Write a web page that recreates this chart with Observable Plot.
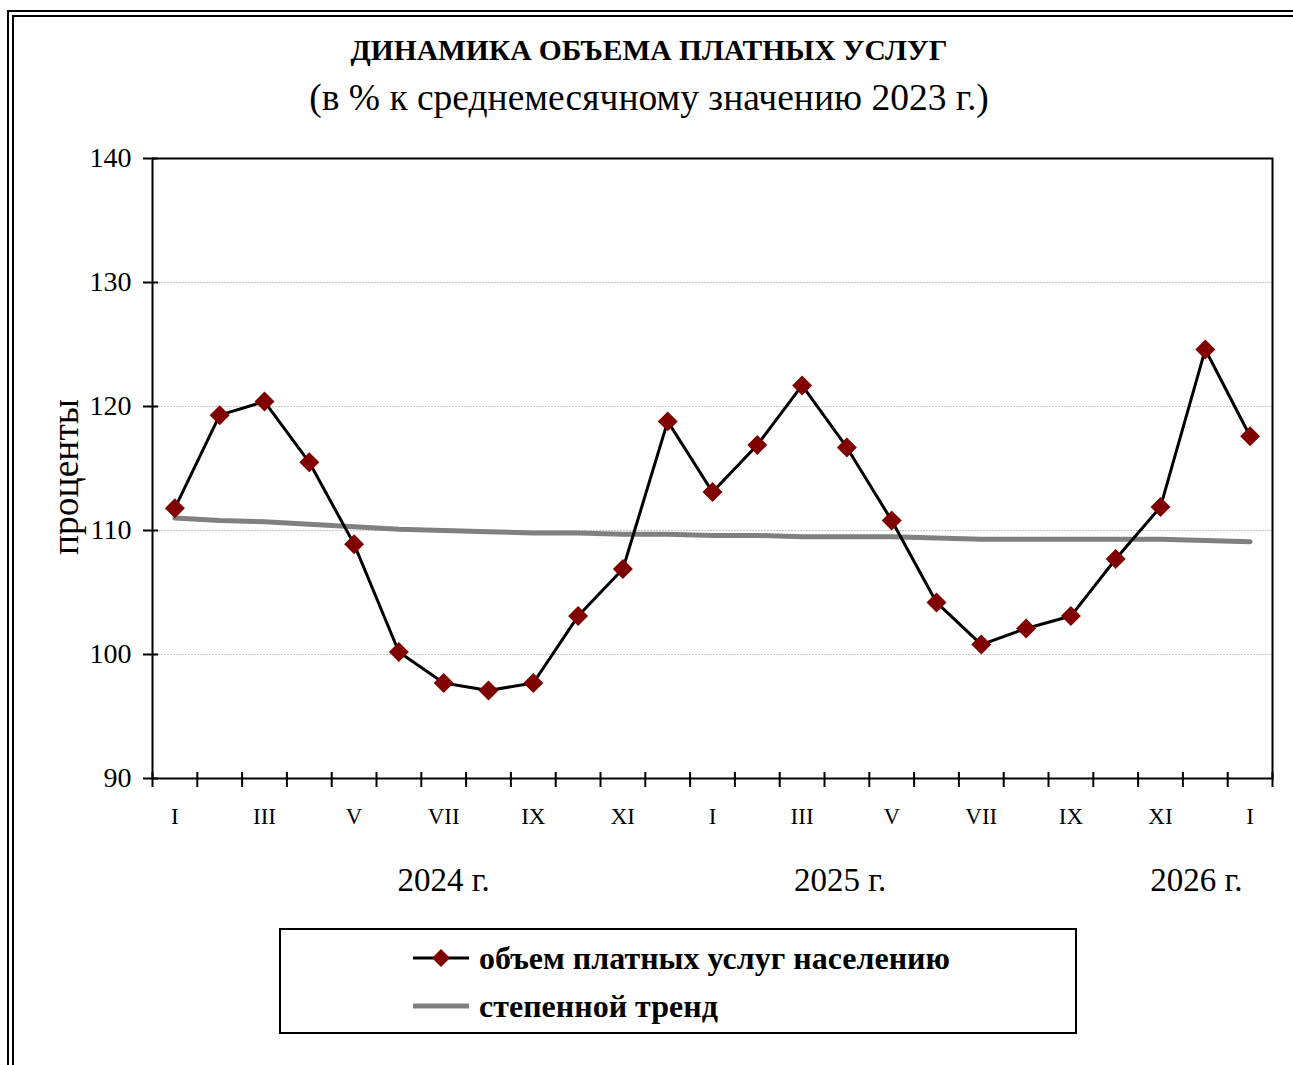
<!DOCTYPE html>
<html><head><meta charset="utf-8">
<script src="https://cdn.jsdelivr.net/npm/d3@7"></script>
<script src="https://cdn.jsdelivr.net/npm/@observablehq/plot@0.6"></script>
<style>
html,body{margin:0;padding:0;background:#fff;}
#page{position:relative;width:1293px;height:1065px;overflow:hidden;font-family:"Liberation Serif","Times New Roman",serif;color:#000;}
#frame{position:absolute;left:7px;top:10px;width:1400px;height:1200px;border-left:7px double #000;border-top:7px double #000;box-sizing:border-box;}
#title{position:absolute;left:0;width:1298px;top:32px;text-align:center;font-weight:bold;font-size:29.5px;line-height:36px;}
#subtitle{position:absolute;left:0;width:1298px;top:76px;text-align:center;font-size:37.5px;line-height:44px;}
#ylabel{position:absolute;left:66px;top:477px;width:0;height:0;}
#ylabel span{position:absolute;left:0;top:0;transform:translate(-50%,-50%) rotate(-90deg);white-space:nowrap;font-size:37.5px;line-height:40px;}
#chart{position:absolute;left:0;top:0;}
#legend{position:absolute;left:279px;top:928px;width:798px;height:106px;border:2px solid #000;box-sizing:border-box;}
.item{position:absolute;left:131px;height:40px;display:flex;align-items:center;font-weight:bold;font-size:32px;white-space:nowrap;}
.item svg{margin-right:9px;flex:none;}
</style></head>
<body>
<div id="page">
  <div id="frame"></div>
  <div id="title">ДИНАМИКА ОБЪЕМА ПЛАТНЫХ УСЛУГ</div>
  <div id="subtitle">(в % к среднемесячному значению 2023 г.)</div>
  <div id="chart"></div>
  <div id="ylabel"><span>проценты</span></div>
  <div id="legend">
    <div class="item" style="top:8px"><svg width="58" height="24"><line x1="1" y1="12" x2="57" y2="12" stroke="#000" stroke-width="3"/><path d="M29,3 L38,12 L29,21 L20,12 Z" fill="#800000"/></svg><span>объем платных услуг населению</span></div>
    <div class="item" style="top:56px"><svg width="58" height="24"><line x1="1" y1="12" x2="57" y2="12" stroke="#808080" stroke-width="5"/></svg><span>степенной тренд</span></div>
  </div>
</div>
<script>
// ---- data ----
const months = ["I","II","III","IV","V","VI","VII","VIII","IX","X","XI","XII",
                "I","II","III","IV","V","VI","VII","VIII","IX","X","XI","XII","I"];
const years = [2024,2024,2024,2024,2024,2024,2024,2024,2024,2024,2024,2024,
               2025,2025,2025,2025,2025,2025,2025,2025,2025,2025,2025,2025,2026];
const services = [111.8,119.3,120.4,115.5,108.9,100.2,97.7,97.1,97.7,103.1,106.9,118.8,
                  113.1,116.9,121.7,116.7,110.8,104.2,100.8,102.1,103.1,107.7,111.9,124.6,117.6];
const trend = [111.0,110.8,110.7,110.5,110.3,110.1,110.0,109.9,109.8,109.8,109.7,109.7,
               109.6,109.6,109.5,109.5,109.5,109.4,109.3,109.3,109.3,109.3,109.3,109.2,109.1];
const yTicks = [90,100,110,120,130,140];
const gridValues = [100,110,120,130];
const yearLabels = ["2024 г.","2025 г.","2026 г."];
const yearLabelAt = [6.5, 15.35, 23.3]; // position along month axis (in months)

// ---- table ----
const rows = months.map((m,i)=>({i, pos:i+0.5, month:m, year:years[i], value:services[i], trend:trend[i]}));
const boundaries = d3.range(0, months.length+1);
const labelTicks = rows.filter(r=>r.i%2===0).map(r=>r.pos);
const yearRows = yearLabels.map((t,k)=>({text:t, pos:yearLabelAt[k]}));

const W = 1293, H = 900;
const chart = Plot.plot({
  width: W, height: H,
  marginLeft: 152, marginRight: 21, marginTop: 158, marginBottom: H-778,
  style: {fontFamily: '"Liberation Serif","Times New Roman",serif', fontSize: "28px", color:"#000", background:"transparent"},
  x: {type:"linear", domain:[0, months.length], axis:null},
  y: {domain:[90,140], axis:null},
  marks: [
    Plot.ruleY(gridValues, {stroke:"#c4c4c4", strokeWidth:1, strokeDasharray:"2,1"}),
    Plot.frame({stroke:"#000", strokeWidth:2}),
    Plot.axisY({ticks:yTicks, tickSize:15, dx:6, tickPadding:12, tickFormat:d=>d, fontSize:28, stroke:"#000", strokeWidth:2, label:null}),
    Plot.axisX({ticks:boundaries, tickSize:15, dy:-6, tickFormat:()=>"", stroke:"#000", strokeWidth:2, label:null}),
    Plot.axisX({ticks:labelTicks, tickSize:0, tickPadding:29, tickFormat:d=>months[Math.floor(d)], fontSize:23, label:null, style:{letterSpacing:"-1.5px"}}),
    Plot.text(yearRows, {x:"pos", text:"text", frameAnchor:"bottom", dy:102, lineAnchor:"middle", fontSize:33}),
    Plot.line(rows, {x:"pos", y:"trend", stroke:"#808080", strokeWidth:5}),
    Plot.line(rows, {x:"pos", y:"value", stroke:"#000", strokeWidth:3}),
    Plot.dot(rows, {x:"pos", y:"value", symbol:"diamond2", r:9, fill:"#800000", stroke:"none"})
  ]
});
document.getElementById("chart").appendChild(chart);
</script>
</body></html>
